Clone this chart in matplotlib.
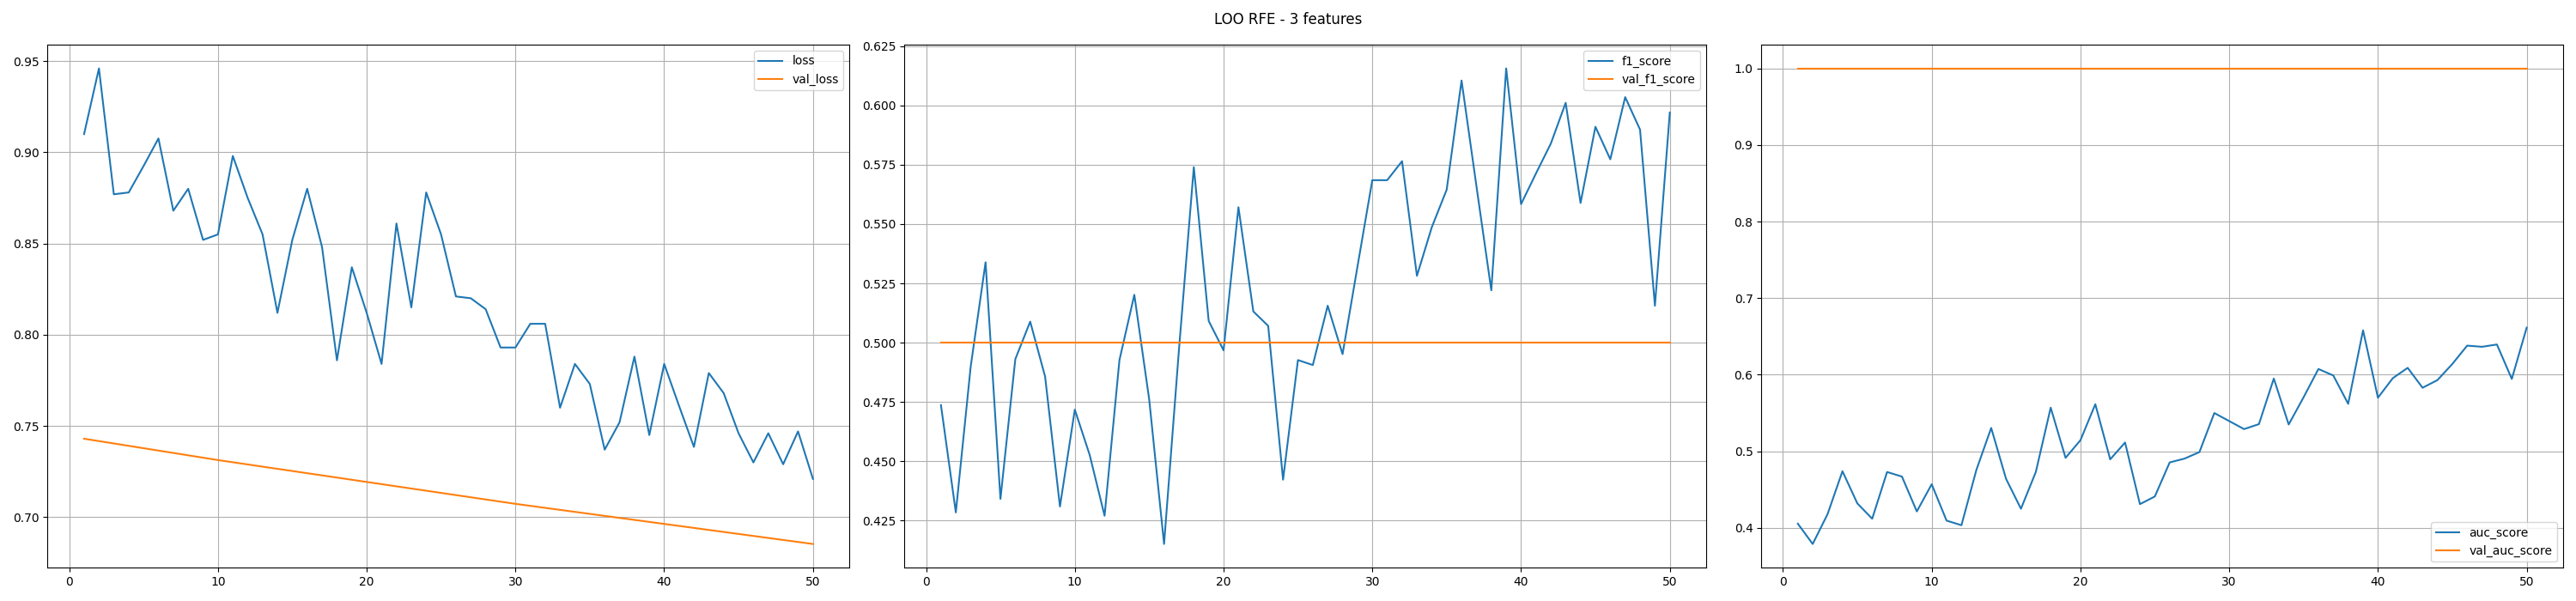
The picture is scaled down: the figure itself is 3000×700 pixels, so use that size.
import numpy as np
import matplotlib
matplotlib.use("Agg")
import matplotlib.pyplot as plt

epochs = list(range(1, 51))

loss = [0.910, 0.946, 0.877, 0.878, 0.8925, 0.9076, 0.868, 0.880, 0.852, 0.855,
        0.898, 0.875, 0.855, 0.812, 0.852, 0.880, 0.848, 0.786, 0.837, 0.812,
        0.784, 0.861, 0.815, 0.878, 0.855, 0.821, 0.820, 0.814, 0.793, 0.793,
        0.806, 0.806, 0.760, 0.784, 0.773, 0.737, 0.752, 0.788, 0.745, 0.784,
        0.761, 0.7385, 0.779, 0.768, 0.746, 0.730, 0.746, 0.729, 0.747, 0.721]

val_loss = [0.7430, 0.7417, 0.7404, 0.7391, 0.7378, 0.7365, 0.7352, 0.7339, 0.7326, 0.7313,
            0.7301, 0.7289, 0.7277, 0.7265, 0.7253, 0.7241, 0.7229, 0.7217, 0.7205, 0.7193,
            0.7181, 0.7169, 0.7157, 0.7145, 0.7133, 0.7121, 0.7109, 0.7097, 0.7085, 0.7073,
            0.7062, 0.7051, 0.7040, 0.7029, 0.7018, 0.7007, 0.6996, 0.6985, 0.6974, 0.6963,
            0.6952, 0.6941, 0.6930, 0.6919, 0.6908, 0.6897, 0.6886, 0.6875, 0.6864, 0.6853]

f1_score = [0.4737, 0.4285, 0.490, 0.5339, 0.4342, 0.4931, 0.5089, 0.4858, 0.431, 0.4718,
            0.4527, 0.4271, 0.4927, 0.5202, 0.4761, 0.4152, 0.497, 0.574, 0.5092, 0.4968,
            0.5571, 0.5132, 0.5071, 0.4423, 0.4927, 0.4906, 0.5156, 0.4952, 0.532, 0.5685,
            0.5685, 0.5765, 0.5282, 0.5487, 0.5645, 0.6105, 0.566, 0.5221, 0.6156, 0.5584,
            0.5713, 0.5839, 0.6011, 0.5589, 0.591, 0.5773, 0.6035, 0.5898, 0.5156, 0.597]

val_f1_score = [0.5] * 50

auc_score = [0.4055, 0.379, 0.418, 0.474, 0.432, 0.412, 0.473, 0.467, 0.4215, 0.457,
             0.4095, 0.4035, 0.4755, 0.5305, 0.464, 0.425, 0.473, 0.557, 0.4915, 0.5145,
             0.5615, 0.4895, 0.5115, 0.431, 0.441, 0.4855, 0.4905, 0.499, 0.550, 0.5395,
             0.529, 0.5355, 0.595, 0.535, 0.5705, 0.6075, 0.599, 0.562, 0.658, 0.570,
             0.5955, 0.609, 0.583, 0.593, 0.614, 0.638, 0.6365, 0.6395, 0.5945, 0.6615]

val_auc_score = [1.0] * 50

panels = [
    ("loss", loss, "val_loss", val_loss, "upper right"),
    ("f1_score", f1_score, "val_f1_score", val_f1_score, "upper right"),
    ("auc_score", auc_score, "val_auc_score", val_auc_score, "lower right"),
]

fig, axes = plt.subplots(1, 3, figsize=(30, 7), dpi=100)
fig.suptitle("LOO RFE - 3 features")

for ax, (name, train, val_name, val, loc) in zip(axes, panels):
    ax.plot(epochs, train, label=name)
    ax.plot(epochs, val, label=val_name)
    ax.grid(True)
    ax.legend(loc=loc)

plt.tight_layout()
plt.savefig("out.png")
